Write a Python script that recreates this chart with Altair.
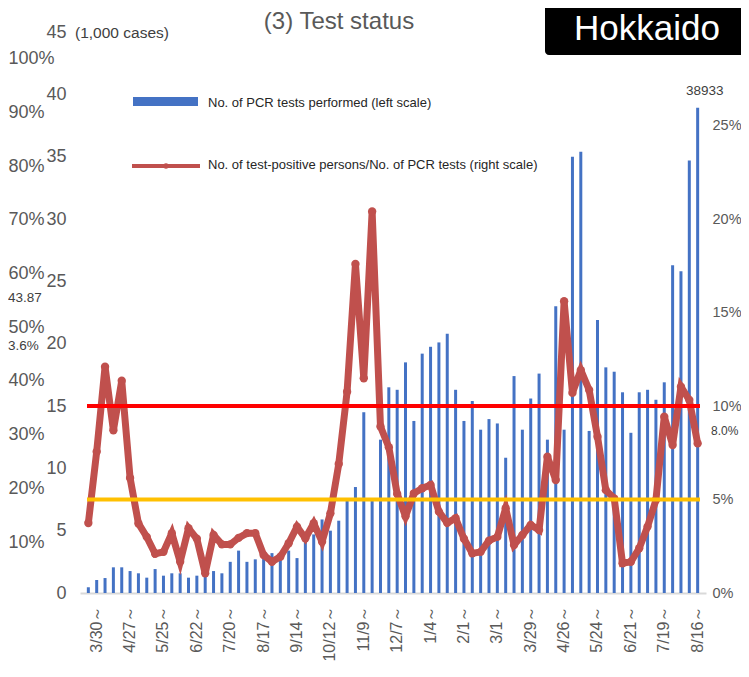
import altair as alt
import pandas as pd

# ---- data -------------------------------------------------------------
WEEK_START = "2020-03-23"
N_WEEKS = 74
weeks = [f"{d.month}/{d.day}" for d in pd.date_range(WEEK_START, periods=N_WEEKS, freq="7D")]

# No. of PCR tests performed (1,000 cases), weekly
tests_k = [0.46, 1.04, 1.2, 2.06, 2.06, 1.76, 1.58, 1.23, 1.92, 1.39,
           1.58, 1.58, 1.23, 1.39, 1.6, 1.76, 1.58, 2.5, 3.4, 2.5,
           2.7, 3.2, 3.2, 2.8, 3.4, 2.8, 4.4, 4.7, 5.9, 5.0,
           5.8, 7.6, 8.5, 14.5, 7.6, 12.3, 16.5, 16.3, 18.5, 13.8,
           19.2, 19.75, 20.1, 20.8, 16.3, 13.8, 15.4, 13.1, 13.95, 13.6,
           10.85, 17.4, 13.1, 15.6, 17.6, 12.3, 23.0, 13.1, 35.0, 35.4,
           13.0, 21.9, 18.1, 17.75, 16.1, 12.85, 16.1, 16.3, 15.5, 16.9,
           26.3, 25.8, 34.7, 38.933]

# Positive rate (%), weekly
rate_pct = [3.74, 7.56, 12.1, 8.7, 11.35, 6.15, 3.72, 3.0, 2.1, 2.2,
            3.2, 1.67, 3.46, 2.9, 1.05, 3.1, 2.6, 2.6, 2.95, 3.2,
            3.2, 2.03, 1.67, 1.94, 2.66, 3.55, 2.93, 3.73, 2.74, 4.26,
            6.9, 10.76, 17.6, 11.48, 20.4, 8.9, 7.8, 5.3, 4.1, 5.33,
            5.6, 5.78, 4.35, 3.75, 4.0, 2.9, 2.12, 2.2, 2.8, 3.0,
            4.53, 2.57, 3.1, 3.64, 3.37, 7.29, 6.04, 15.6, 10.7, 11.92,
            10.86, 8.36, 5.5, 5.06, 1.59, 1.67, 2.39, 3.55, 4.97, 9.43,
            7.91, 11.03, 10.32, 8.0]

threshold_levels = [10, 5]
threshold_colors = ["#FF0000", "#FFC000"]

left_ticks = [0, 5, 10, 15, 20, 25, 30, 35, 40, 45]
right_ticks = [0, 5, 10, 15, 20, 25]
pct_ticks = [0, 10, 20, 30, 40, 50, 60, 70, 80, 90, 100]

title_text = "(3) Test status"
region_text = "Hokkaido"
unit_text = "(1,000 cases)"
legend_texts = ["No. of PCR tests performed (left scale)",
                "No. of test-positive persons/No. of PCR tests (right scale)"]
last_tests_label = "38933"
last_rate_label = "8.0%"
stray_labels = ["43.87", "3.6%"]

FONT = "Liberation Sans"
GRAY = "#595959"
BLUE = "#4472C4"
RED = "#C0504D"

df = pd.DataFrame({"week": weeks, "tests": tests_k, "rate": rate_pct})

xenc = alt.X(
    "week:O", sort=weeks,
    scale=alt.Scale(paddingInner=0, paddingOuter=0.5),
    axis=alt.Axis(values=weeks[1::4], labelExpr="datum.label + '～'", title=None,
                  labelAngle=270, labelAlign="right", labelBaseline="middle",
                  labelPadding=12, ticks=False, domainColor="#D9D9D9", domainWidth=2,
                  labelFontSize=16, labelColor=GRAY, labelFont=FONT, grid=False),
)

# ---- bars (left scale) -------------------------------------------------
yt = alt.Y("tests:Q", scale=alt.Scale(domain=[0, 45], nice=False),
           axis=alt.Axis(orient="left", values=left_ticks, title=None, grid=False,
                         ticks=False, domain=False, labelFontSize=18, labelColor=GRAY,
                         labelFont=FONT, labelPadding=14))
bars = alt.Chart(df).mark_bar(size=3, color=BLUE).encode(x=xenc, y=yt)
bar_label = alt.Chart(df.tail(1).assign(t=last_tests_label)).mark_text(
    fontSize=13.5, color="#404040", font=FONT, dy=-17, dx=7).encode(x=xenc, y=yt, text="t:N")
bar_layer = alt.layer(bars, bar_label)

# ---- positive rate (right scale) ---------------------------------------
yr = alt.Y("rate:Q", scale=alt.Scale(domain=[0, 30], nice=False),
           axis=alt.Axis(orient="right", values=right_ticks, labelExpr="datum.value + '%'",
                         title=None, grid=False, ticks=False, domain=False,
                         labelFontSize=14.5, labelColor=GRAY, labelFont=FONT, labelPadding=6))
line = alt.Chart(df).mark_line(color=RED, strokeWidth=7).encode(x=xenc, y=yr)
pts = alt.Chart(df).mark_circle(size=70, color=RED, opacity=1).encode(x=xenc, y=yr)
thr = alt.Chart(pd.DataFrame({"rate": threshold_levels, "c": threshold_colors})).mark_rule(
    strokeWidth=4).encode(y=yr, x=alt.value(7), x2=alt.value(620),
                          color=alt.Color("c:N", scale=None))
rate_label = alt.Chart(df.tail(1).assign(t=last_rate_label)).mark_text(
    fontSize=12, color="#404040", font=FONT, align="left", dy=-12).encode(
    x=alt.value(631), y=yr, text="t:N")
rate_layer = alt.layer(line, pts, thr, rate_label)

# ---- extra percent scale on far left ------------------------------------
pct_layer = alt.Chart(pd.DataFrame({"p": [0]})).mark_point(opacity=0).encode(
    y=alt.Y("p:Q", scale=alt.Scale(domain=[0.5, 105], nice=False),
            axis=alt.Axis(orient="left", values=pct_ticks, labelExpr="datum.value + '%'",
                          title=None, grid=False, ticks=False, domain=False,
                          labelAlign="left", labelPadding=72, labelFontSize=18,
                          labelColor=GRAY, labelFont=FONT)))

# ---- annotations ---------------------------------------------------------
def txt(s, x, y, size, color, align="left", weight="normal"):
    return alt.Chart(pd.DataFrame({"t": [s]})).mark_text(
        align=align, baseline="middle", fontSize=size, color=color, font=FONT,
        fontWeight=weight).encode(text="t:N", x=alt.value(x), y=alt.value(y))

title = txt(title_text, 259, -10, 24, GRAY, align="center")
unit = txt(unit_text, -5, 1, 15.5, "#404040")
box = alt.Chart(pd.DataFrame({"a": [0]})).mark_rect(color="black", cornerRadius=4).encode(
    x=alt.value(465), x2=alt.value(680), y=alt.value(-40), y2=alt.value(23))
region = txt(region_text, 567, -3, 35, "white", align="center")

leg_bar = alt.Chart(pd.DataFrame({"a": [0]})).mark_rect(color=BLUE).encode(
    x=alt.value(53), x2=alt.value(118), y=alt.value(65), y2=alt.value(74))
leg_line = alt.Chart(pd.DataFrame({"a": [0]})).mark_rule(color=RED, strokeWidth=4).encode(
    x=alt.value(52), x2=alt.value(120), y=alt.value(134))
leg_dot = alt.Chart(pd.DataFrame({"a": [0]})).mark_circle(color=RED, size=30, opacity=1).encode(
    x=alt.value(86), y=alt.value(134))
leg_t1 = txt(legend_texts[0], 128, 71, 13, "#262626")
leg_t2 = txt(legend_texts[1], 128, 133, 13, "#262626")
stray1 = txt(stray_labels[0], -72, 266, 13.5, "#404040")
stray2 = txt(stray_labels[1], -72, 314, 13.5, "#404040")

chart = alt.layer(
    bar_layer, rate_layer, pct_layer,
    title, unit, box, region, leg_bar, leg_line, leg_dot, leg_t1, leg_t2, stray1, stray2,
).resolve_scale(y="independent").properties(
    width=626, height=561,
    padding={"left": 72, "top": 24, "right": 35, "bottom": 68},
    autosize=alt.AutoSizeParams(type="none"),
).configure_view(stroke=None)

chart.save("out.html", embed_options={"renderer": "svg", "actions": False})
